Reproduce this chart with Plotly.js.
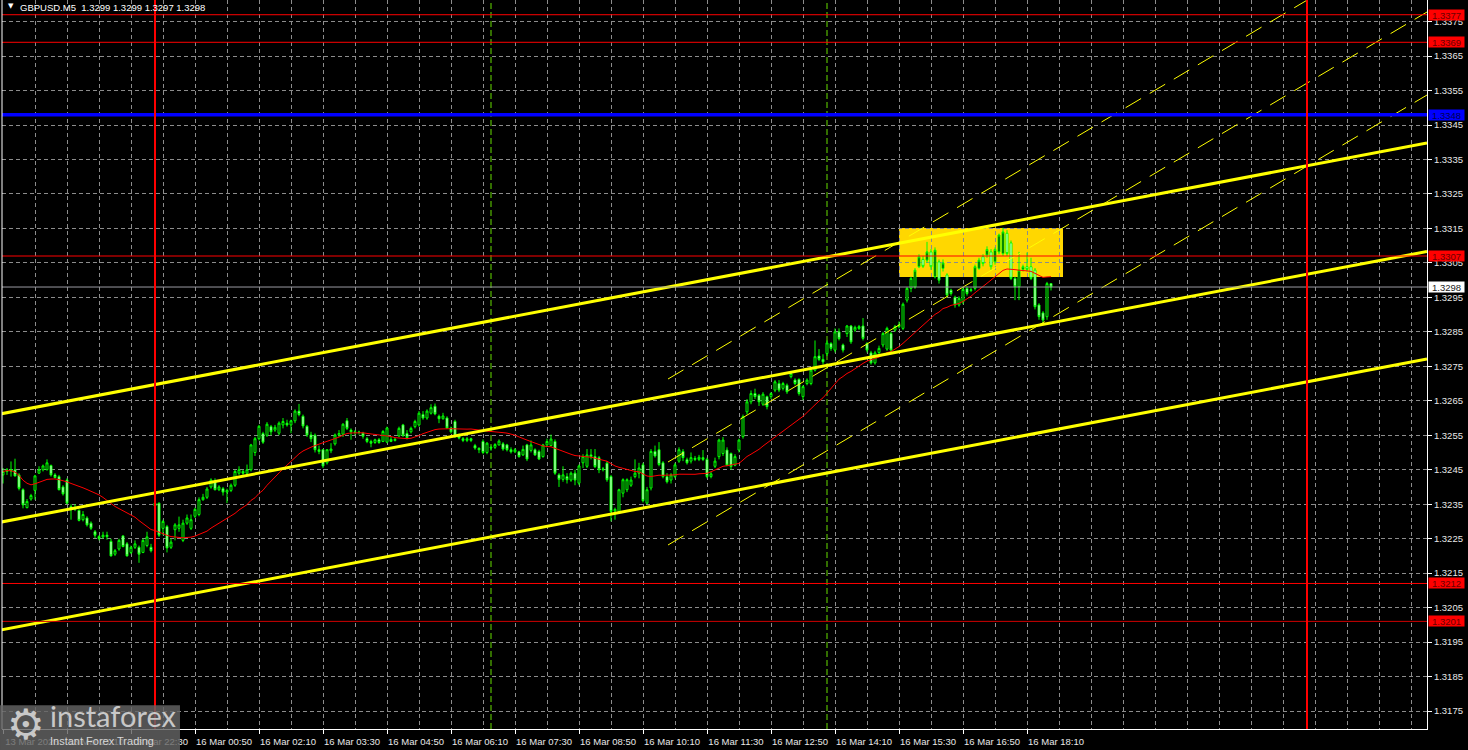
<!DOCTYPE html>
<html>
<head>
<meta charset="utf-8">
<script src="https://cdn.plot.ly/plotly-3.0.1.min.js"></script>
<style>
html,body{margin:0;padding:0;background:#000;}
#chart{width:1468px;height:750px;}
</style>
</head>
<body>
<div id="chart"></div>
<script>
// ---------- DATA ----------
const symbolTitle = "GBPUSD.M5  1.3299 1.3299 1.3297 1.3298";
const firstBarIndex = -38; // bar index of first candle (16 Mar 00:00 = 0)

const opens = [
1.32435,1.32445,1.3245,1.3245,1.32435,1.32392,1.3234,1.32365,1.3239,1.3244,
1.3245,1.3245,1.32462,1.32435,1.3243,1.324,1.3242,1.32343,1.32335,1.32332,
1.32305,1.3231,1.32295,1.3227,1.32256,1.32255,1.3226,1.32242,1.32205,1.3222,
1.32258,1.32235,1.3221,1.32225,1.32225,1.3221,1.3223,1.32225,
1.32345,1.32353,1.3228,1.32285,1.32225,1.32276,1.3228,1.32245,1.32295,1.3228,
1.32315,1.3232,1.32363,1.3237,1.324,1.32416,1.32392,1.32395,1.32385,1.3239,
1.32405,1.3244,1.32445,1.3244,1.3245,1.325,1.3254,1.32555,1.3255,1.32575,
1.32565,1.32556,1.3258,1.32585,1.3258,1.32592,1.3262,1.32605,1.32576,1.32551,
1.3255,1.32508,1.32508,1.3247,1.32505,1.32525,1.32551,1.32553,1.32592,1.32565,
1.3256,1.32558,1.32556,1.3254,1.32532,1.32529,1.32537,1.32532,1.3253,1.32538,
1.32535,1.32548,1.3258,1.32555,1.3256,1.32575,1.3258,1.3261,1.326,1.32614,
1.32634,1.32605,1.32598,1.326,1.32571,1.3259,1.3255,1.3254,1.32535,1.3254,
1.3252,1.32512,1.32532,1.325,1.32515,1.32515,1.32522,1.32525,1.32522,1.32508,
1.32502,1.32502,1.32493,1.32522,1.32506,1.32508,1.32503,1.32488,1.32522,1.3252,
1.32532,1.32435,1.32422,1.3243,1.3242,1.3244,1.32411,1.3247,1.3246,1.32493,
1.32488,1.32485,1.3245,1.32469,1.3243,1.3233,1.32329,1.32382,1.32392,1.32405,
1.3243,1.3244,1.32464,1.32353,1.32397,1.32503,1.32508,1.3247,1.3243,1.3242,
1.3243,1.32475,1.32503,1.32479,1.32475,1.32483,1.3248,1.32485,1.3248,1.3243,
1.3246,1.32488,1.32497,1.32507,1.32497,1.32463,1.32507,1.32546,1.32618,1.32647,
1.32671,1.32666,1.3264,1.32662,1.32662,1.32681,1.327,1.32686,1.32695,1.3272,
1.3271,1.32712,1.32662,1.327,1.327,1.32739,1.3278,1.3277,1.32787,1.32816,
1.32797,1.3285,1.32812,1.32845,1.32867,1.32855,1.3286,1.32867,1.32816,1.32789,
1.3276,1.3279,1.32812,1.328,1.32845,1.32855,1.32865,1.3286,1.32942,1.32976,
1.3298,1.33039,1.3306,1.33058,1.33082,1.3301,1.33053,1.33034,1.33015,1.32971,
1.3295,1.32928,1.32937,1.32976,1.3297,1.32976,1.33034,1.33068,1.33073,1.33082,
1.33053,1.33082,1.33077,1.33136,1.33108,1.33005,1.32981,1.33031,1.33039,1.33039,
1.33029,1.32928,1.32905,1.32894,1.3299];

const highs = [
1.32455,1.32455,1.32474,1.32482,1.3244,1.32396,1.32365,1.3238,1.32435,1.3246,
1.32465,1.3248,1.32465,1.3244,1.32435,1.32405,1.32425,1.3235,1.3235,1.32335,
1.3233,1.32315,1.323,1.32275,1.3226,1.3227,1.3227,1.3225,1.3222,1.3225,
1.3226,1.3224,1.3223,1.32245,1.3223,1.3225,1.3227,1.32235,
1.3236,1.32355,1.32305,1.3229,1.3225,1.32295,1.32314,1.32305,1.3232,1.3232,
1.3234,1.3237,1.3238,1.324,1.32425,1.32425,1.32405,1.324,1.32395,1.3241,
1.3245,1.3246,1.3245,1.32465,1.32525,1.32545,1.3258,1.3256,1.32588,1.3258,
1.3258,1.3259,1.326,1.32595,1.32595,1.32625,1.32641,1.3261,1.3258,1.3256,
1.32555,1.3252,1.3251,1.3251,1.32527,1.32555,1.32565,1.32585,1.326,1.3257,
1.32565,1.32563,1.3256,1.32545,1.32537,1.3254,1.32542,1.32565,1.32575,1.32545,
1.32542,1.32575,1.32583,1.32565,1.32575,1.32595,1.3262,1.3262,1.32625,1.3264,
1.32642,1.3261,1.32615,1.32605,1.32575,1.32595,1.32555,1.32545,1.32545,1.32543,
1.32525,1.32515,1.32538,1.3253,1.3252,1.32527,1.32538,1.3253,1.32525,1.32515,
1.32513,1.32505,1.3252,1.32525,1.32535,1.32512,1.32508,1.32525,1.3254,1.32552,
1.32538,1.3244,1.3246,1.3244,1.32445,1.3245,1.32465,1.32495,1.3251,1.3251,
1.3251,1.3249,1.32458,1.32475,1.32435,1.3234,1.32395,1.32425,1.32425,1.3243,
1.3248,1.3247,1.3247,1.324,1.3251,1.3252,1.3253,1.32475,1.3244,1.3244,
1.3247,1.32515,1.3251,1.32485,1.325,1.3249,1.32493,1.32507,1.32485,1.32445,
1.32485,1.3254,1.32545,1.32515,1.325,1.32495,1.3254,1.3261,1.32655,1.3268,
1.32685,1.3267,1.32675,1.32665,1.32675,1.3271,1.3271,1.32705,1.327,1.32732,
1.32715,1.32715,1.32695,1.32715,1.32745,1.32825,1.328,1.32785,1.32825,1.3282,
1.3286,1.3286,1.32816,1.3287,1.3287,1.32868,1.3287,1.3289,1.3282,1.32795,
1.32795,1.3281,1.3285,1.32865,1.3285,1.3287,1.3288,1.32935,1.3298,1.3301,
1.33035,1.33075,1.3307,1.33111,1.3309,1.33095,1.3306,1.3306,1.3302,1.32975,
1.32955,1.32953,1.3298,1.32982,1.32978,1.33045,1.33065,1.33075,1.33098,1.3309,
1.33095,1.33135,1.33152,1.33145,1.33115,1.3301,1.33082,1.33045,1.3308,1.33065,
1.33035,1.32933,1.3291,1.32995,1.3299];

const lows = [
1.3241,1.32435,1.3243,1.3243,1.3239,1.32338,1.32338,1.3236,1.32363,1.32438,
1.32445,1.32448,1.3243,1.32425,1.3239,1.32375,1.3235,1.32305,1.3233,1.323,
1.323,1.32285,1.32275,1.32252,1.32245,1.3225,1.32247,1.32198,1.322,1.32215,
1.32225,1.32198,1.32205,1.3222,1.3218,1.32208,1.32225,1.3221,
1.3233,1.32255,1.3226,1.3221,1.3222,1.32245,1.3227,1.3224,1.3229,1.32275,
1.3231,1.32315,1.3236,1.32365,1.32395,1.3239,1.32388,1.32375,1.32353,1.32385,
1.324,1.32435,1.32435,1.32435,1.32445,1.3249,1.32535,1.32525,1.32545,1.3255,
1.3256,1.3255,1.3257,1.32575,1.32556,1.32585,1.32605,1.3257,1.32545,1.3253,
1.325,1.32495,1.32455,1.32465,1.32498,1.3252,1.32545,1.32545,1.32565,1.32537,
1.3255,1.32552,1.3254,1.32527,1.32515,1.32525,1.32525,1.3253,1.32527,1.3253,
1.32532,1.32545,1.32545,1.32538,1.32555,1.3257,1.32575,1.32595,1.32595,1.3261,
1.32608,1.32585,1.32595,1.32568,1.32555,1.32542,1.32538,1.3253,1.3253,1.3253,
1.32508,1.32498,1.32495,1.32495,1.32505,1.3251,1.3252,1.32505,1.32503,1.32497,
1.32498,1.32485,1.3249,1.32475,1.325,1.3249,1.32478,1.32485,1.32515,1.32518,
1.32435,1.324,1.32415,1.3241,1.32415,1.32405,1.32405,1.32455,1.32455,1.3248,
1.32455,1.3244,1.32445,1.32415,1.323,1.32305,1.32325,1.3237,1.32385,1.324,
1.32425,1.32425,1.32355,1.3235,1.3239,1.32485,1.3246,1.32425,1.3241,1.3241,
1.32425,1.3247,1.32475,1.32465,1.32468,1.32475,1.32475,1.32475,1.32425,1.32425,
1.32455,1.3248,1.3249,1.3246,1.3245,1.3246,1.325,1.3254,1.3261,1.3264,
1.32655,1.32635,1.32635,1.32625,1.32655,1.32675,1.32675,1.3268,1.3267,1.32715,
1.32695,1.32665,1.32652,1.32695,1.32695,1.32735,1.32765,1.32755,1.3278,1.32795,
1.3279,1.32825,1.3279,1.32835,1.32815,1.3285,1.32855,1.32825,1.3279,1.32755,
1.32755,1.32785,1.32805,1.32795,1.3279,1.3285,1.3286,1.32855,1.32935,1.32965,
1.32975,1.33035,1.33035,1.3305,1.3303,1.33005,1.3299,1.33025,1.3295,1.32955,
1.3292,1.32923,1.3293,1.32955,1.32965,1.3297,1.3303,1.3304,1.33065,1.3303,
1.33045,1.33075,1.3307,1.3307,1.33,1.32942,1.32942,1.33025,1.33025,1.33,
1.32915,1.32885,1.32875,1.32885,1.3297];

const closes = [
1.32445,1.3245,1.32446,1.32432,1.32396,1.32348,1.32358,1.32375,1.32432,1.3245,
1.32461,1.3247,1.32435,1.32427,1.32392,1.3238,1.32353,1.32334,1.3234,1.32303,
1.3232,1.3229,1.3228,1.3226,1.3225,1.3226,1.32256,1.322,1.32215,1.32245,
1.32227,1.322,1.32225,1.32235,1.32205,1.32245,1.32255,1.32215,
1.32353,1.3226,1.323,1.32223,1.3224,1.3229,1.3229,1.32295,1.3231,1.32305,
1.32335,1.32363,1.3237,1.32394,1.3242,1.32392,1.324,1.32385,1.3239,1.32405,
1.32445,1.3245,1.3244,1.3245,1.32522,1.3254,1.32576,1.3253,1.32582,1.3256,
1.32573,1.32585,1.3259,1.3258,1.32592,1.3262,1.3261,1.32577,1.32551,1.3254,
1.32508,1.32503,1.32461,1.32508,1.3251,1.32551,1.32555,1.32582,1.3257,1.3256,
1.32558,1.32559,1.32547,1.32532,1.32527,1.32537,1.32529,1.32561,1.32571,1.32532,
1.32538,1.3257,1.3255,1.32543,1.3257,1.3259,1.32614,1.326,1.3262,1.3263,
1.32612,1.32598,1.32606,1.32571,1.3256,1.32547,1.32542,1.32535,1.3254,1.32535,
1.32513,1.32508,1.325,1.32527,1.32513,1.32523,1.32533,1.3251,1.32508,1.32502,
1.32508,1.32488,1.32509,1.32481,1.32522,1.32493,1.32481,1.32522,1.32532,1.32539,
1.3244,1.32422,1.32435,1.32421,1.3244,1.3242,1.32461,1.32488,1.32493,1.32488,
1.32459,1.3245,1.32452,1.32421,1.32329,1.32335,1.32392,1.32421,1.32421,1.3242,
1.3244,1.32455,1.3236,1.32392,1.32503,1.3249,1.32465,1.3243,1.32415,1.32435,
1.32464,1.32508,1.32485,1.3247,1.32485,1.3248,1.32486,1.3248,1.3243,1.32438,
1.32475,1.32536,1.32536,1.32463,1.32459,1.32488,1.32536,1.32604,1.32647,1.32671,
1.32662,1.32647,1.32669,1.32633,1.32671,1.32705,1.32681,1.327,1.32676,1.32729,
1.327,1.32671,1.32691,1.3271,1.32739,1.32778,1.3277,1.32763,1.32818,1.32802,
1.3285,1.3283,1.32797,1.32867,1.32821,1.32863,1.32865,1.32831,1.32797,1.3276,
1.32789,1.32802,1.32845,1.3286,1.32797,1.32865,1.3287,1.3293,1.32976,1.33005,
1.33029,1.33068,1.3304,1.33082,1.33039,1.33087,1.33,1.3305,1.32957,1.32961,
1.32928,1.32947,1.32973,1.32961,1.32972,1.33039,1.33058,1.33048,1.33089,1.33039,
1.33089,1.33131,1.3314,1.33077,1.33005,1.32981,1.33029,1.33039,1.33031,1.33005,
1.32923,1.32894,1.32884,1.3299,1.3298];

const maPeriod = 25;

// x-axis tick labels (every 16 bars starting from the first bar)
const tickLabels = ["13 Mar 2026","13 Mar 21:10","13 Mar 22:30","16 Mar 00:50","16 Mar 02:10",
  "16 Mar 03:30","16 Mar 04:50","16 Mar 06:10","16 Mar 07:30","16 Mar 08:50","16 Mar 10:10",
  "16 Mar 11:30","16 Mar 12:50","16 Mar 14:10","16 Mar 15:30","16 Mar 16:50","16 Mar 18:10"];
const tickStepBars = 16;
const gridStepBars = 8;

// horizontal levels
const redLevels = [1.3377, 1.3369, 1.3307, 1.3212];
const darkRedLevels = [1.3201];
const blueLevels = [1.3348];
const bidLevel = 1.3298;

// vertical markers (bar index)
const dayBreaks = [0, 288];          // 16 Mar 00:00, 17 Mar 00:00
const sessionMarks = [84, 168];      // 07:00, 14:00

// thick channel lines (bar index, price)
const chanX = [-39, 318];
const chanUpper = [1.32611, 1.33398];
const chanMiddle = [1.32297, 1.33083];
const chanLower = [1.31984, 1.32771];

// thin dashed channel
const dashX = [128.25, 318];
const dashUpper = [1.327131, 1.340186];
const dashMiddle = [1.324724, 1.337779];
const dashLower = [1.322316, 1.335371];

// highlighted zone
const zoneX = [186, 227];
const zoneY = [1.33009, 1.33151];

// axis ranges
const xRange = [-38.25, 318];
const yRange = [1.316978, 1.338127];
const yTickStart = 1.3175, yTickEnd = 1.3375, yTickStep = 0.001;

// ---------- BUILD ----------
const xs = opens.map((_, k) => firstBarIndex + k);

function sma(arr, n) {
  const out = [];
  for (let k = 0; k < arr.length; k++) {
    const s = Math.max(0, k - n + 1);
    let sum = 0;
    for (let j = s; j <= k; j++) sum += arr[j];
    out.push(sum / (k - s + 1));
  }
  return out;
}
const ma = sma(closes, maPeriod);

const tickVals = tickLabels.map((_, k) => firstBarIndex + k * tickStepBars);
const yTicks = [];
for (let v = yTickStart; v <= yTickEnd + 1e-9; v += yTickStep) yTicks.push(+v.toFixed(4));

const gridCol = '#8c8c8c';
const FONT = 'Liberation Sans, Arial, sans-serif';

const traces = [
  {
    type: 'candlestick', x: xs, open: opens, high: highs, low: lows, close: closes,
    increasing: {line: {color: '#00FF00', width: 1}, fillcolor: '#000000'},
    decreasing: {line: {color: '#00FF00', width: 1}, fillcolor: '#FFFFFF'},
    whiskerwidth: 0, hoverinfo: 'skip', showlegend: false
  },
  {type: 'scatter', mode: 'lines', x: xs, y: ma, line: {color: '#FF0000', width: 1}, hoverinfo: 'skip', showlegend: false},
  {type: 'scatter', mode: 'lines', x: dashX, y: dashUpper, line: {color: '#FFFF00', width: 1, dash: '18px,10px'}, hoverinfo: 'skip', showlegend: false},
  {type: 'scatter', mode: 'lines', x: dashX, y: dashMiddle, line: {color: '#FFFF00', width: 1, dash: '18px,10px'}, hoverinfo: 'skip', showlegend: false},
  {type: 'scatter', mode: 'lines', x: dashX, y: dashLower, line: {color: '#FFFF00', width: 1, dash: '18px,10px'}, hoverinfo: 'skip', showlegend: false},
  {type: 'scatter', mode: 'lines', x: chanX, y: chanUpper, line: {color: '#FFFF00', width: 3}, hoverinfo: 'skip', showlegend: false},
  {type: 'scatter', mode: 'lines', x: chanX, y: chanMiddle, line: {color: '#FFFF00', width: 3}, hoverinfo: 'skip', showlegend: false},
  {type: 'scatter', mode: 'lines', x: chanX, y: chanLower, line: {color: '#FFFF00', width: 3}, hoverinfo: 'skip', showlegend: false}
];

const shapes = [];
// zone rectangle (behind everything)
shapes.push({type: 'rect', xref: 'x', yref: 'y', x0: zoneX[0], x1: zoneX[1], y0: zoneY[0], y1: zoneY[1],
  fillcolor: '#FFD700', line: {width: 0}, layer: 'below'});
// horizontal levels
redLevels.forEach(v => shapes.push({type: 'line', xref: 'paper', yref: 'y', x0: 0, x1: 1, y0: v, y1: v, line: {color: '#FF0000', width: 1}, layer: 'above'}));
darkRedLevels.forEach(v => shapes.push({type: 'line', xref: 'paper', yref: 'y', x0: 0, x1: 1, y0: v, y1: v, line: {color: '#D00000', width: 1}, layer: 'above'}));
blueLevels.forEach(v => shapes.push({type: 'line', xref: 'paper', yref: 'y', x0: 0, x1: 1, y0: v, y1: v, line: {color: '#0000FF', width: 3.5}, layer: 'above'}));
shapes.push({type: 'line', xref: 'paper', yref: 'y', x0: 0, x1: 1, y0: bidLevel, y1: bidLevel, line: {color: '#9a9aa2', width: 1}, layer: 'above'});
// vertical lines
dayBreaks.forEach(v => shapes.push({type: 'line', xref: 'x', yref: 'paper', x0: v, x1: v, y0: 0, y1: 1, line: {color: '#FF0000', width: 2}, layer: 'above'}));
sessionMarks.forEach(v => shapes.push({type: 'line', xref: 'x', yref: 'paper', x0: v, x1: v, y0: 0, y1: 1, line: {color: '#66dd00', width: 1, dash: '6px,3px'}, layer: 'below'}));
// left border
shapes.push({type: 'line', xref: 'paper', yref: 'paper', x0: 0, x1: 0, y0: 0, y1: 1, line: {color: '#FFFFFF', width: 1}, layer: 'above'});
// watermark box
shapes.push({type: 'rect', xref: 'paper', yref: 'paper', x0: -0.0014, x1: 0.1249, y0: -0.029, y1: 0.0325,
  fillcolor: 'rgba(100,100,100,0.82)', line: {width: 0}, layer: 'above'});

const annotations = [];
// title
annotations.push({xref: 'paper', yref: 'paper', x: 0.003, y: 0.9995, xanchor: 'left', yanchor: 'top', showarrow: false,
  text: '▼', font: {family: 'DejaVu Sans', size: 7, color: '#FFFFFF'}});
annotations.push({xref: 'paper', yref: 'paper', x: 0.0115, y: 0.9995, xanchor: 'left', yanchor: 'top', showarrow: false,
  text: symbolTitle, font: {family: FONT, size: 9.5, color: '#FFFFFF'}});

function priceTag(v, bg, fg) {
  annotations.push({xref: 'paper', yref: 'y', x: 1, y: v, xanchor: 'left', yanchor: 'middle', xshift: 1,
    showarrow: false, text: v.toFixed(4), bgcolor: bg, width: 35, height: 10, borderpad: 0,
    font: {family: FONT, size: 9.5, color: fg}});
}
redLevels.forEach(v => priceTag(v, '#FF0000', '#6a0000'));
darkRedLevels.forEach(v => priceTag(v, '#FF0000', '#6a0000'));
blueLevels.forEach(v => priceTag(v, '#0000FF', '#000050'));
priceTag(bidLevel, '#FFFFFF', '#202020');

// watermark texts
annotations.push({xref: 'paper', yref: 'paper', x: 0.002, y: 0.006, xanchor: 'left', yanchor: 'middle', showarrow: false,
  text: '⚙', font: {family: 'DejaVu Sans', size: 42, color: '#c8c8c8'}});
annotations.push({xref: 'paper', yref: 'paper', x: 0.032, y: 0.018, xanchor: 'left', yanchor: 'middle', showarrow: false,
  text: 'instaforex', font: {family: 'Lato, Liberation Sans, sans-serif', size: 29, color: '#c8c8c8'}});
annotations.push({xref: 'paper', yref: 'paper', x: 0.032, y: -0.017, xanchor: 'left', yanchor: 'middle', showarrow: false,
  text: 'Instant Forex Trading', font: {family: FONT, size: 11, color: '#d6d6d6'}});

const layout = {
  width: 1468, height: 750,
  margin: {l: 2, r: 41, t: 0, b: 21, pad: 0},
  paper_bgcolor: '#000000', plot_bgcolor: '#000000',
  font: {family: FONT, size: 9.5, color: '#E8E8E8'},
  showlegend: false, hovermode: false,
  xaxis: {
    range: xRange, tickmode: 'array', tickvals: tickVals, ticktext: tickLabels,
    ticks: 'outside', ticklen: 4, tickcolor: '#FFFFFF', ticklabelshift: 29,
    showgrid: true, gridcolor: gridCol, griddash: '4px,3px', gridwidth: 1,
    minor: {tickmode: 'linear', tick0: firstBarIndex, dtick: gridStepBars, showgrid: true, gridcolor: gridCol, griddash: '4px,3px', gridwidth: 1, ticks: ''},
    showline: true, linecolor: '#FFFFFF', linewidth: 1, zeroline: false,
    rangeslider: {visible: false}, fixedrange: true,
    tickfont: {family: FONT, size: 9.5, color: '#E8E8E8'}
  },
  yaxis: {
    range: yRange, side: 'right', tickmode: 'array', tickvals: yTicks, ticktext: yTicks.map(v => v.toFixed(4)),
    ticks: 'outside', ticklen: 4, tickcolor: '#FFFFFF',
    showgrid: true, gridcolor: gridCol, griddash: '4px,3px', gridwidth: 1,
    showline: true, linecolor: '#FFFFFF', linewidth: 1, zeroline: false, fixedrange: true,
    tickfont: {family: FONT, size: 9.5, color: '#E8E8E8'}
  },
  shapes: shapes,
  annotations: annotations
};

Plotly.newPlot('chart', traces, layout, {displayModeBar: false, staticPlot: true});
</script>
</body>
</html>
